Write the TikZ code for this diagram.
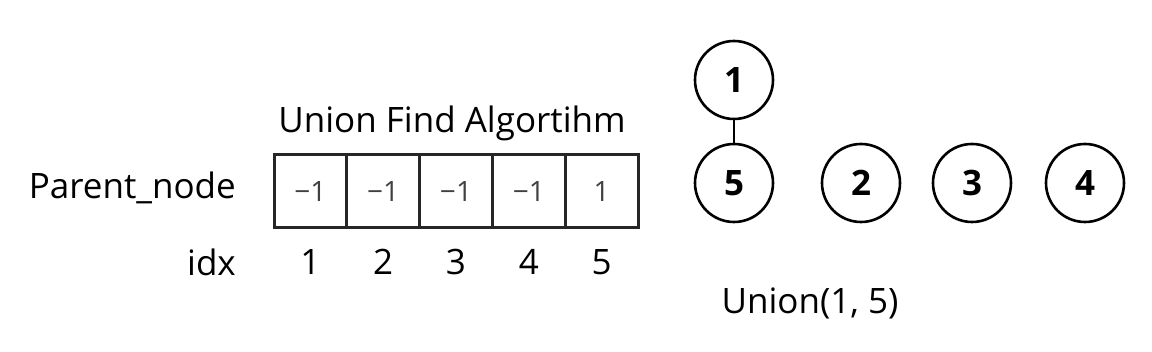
\documentclass[tikz,border=0pt]{standalone}
\usepackage{fontspec}
\setmainfont{Open Sans}
\begin{document}
\begin{tikzpicture}[x=1pt,y=-1pt,
  lbl/.style={inner sep=0pt,font=\fontsize{35}{42}\selectfont},
  cell/.style={draw=black!85,line width=3pt,minimum width=72.8pt,minimum height=73pt,inner sep=0pt,
    text=black!75,font=\fontsize{28}{33}\selectfont},
  vert/.style={circle,draw=black,line width=2.6pt,minimum size=78pt,inner sep=0pt,
    font=\fontsize{35}{42}\selectfont\bfseries},
  edge/.style={line width=2.6pt}]
\useasboundingbox (0,0) rectangle (1152,352);
\node[lbl] (title) at (452,123) {Union Find Algortihm};
\node[lbl,anchor=east] (parent) at (236,188) {Parent\_node};
\node[lbl,anchor=east] (idx) at (236,262) {idx};
\foreach \i/\v in {1/−1,2/−1,3/−1,4/−1,5/1}{
  \node[cell] (c\i) at ({274+36.4+72.8*(\i-1)},191.5) {\v};
  \node[lbl] (n\i) at ({274+36.4+72.8*(\i-1)},262) {\i};
}
\node[vert] (v1) at (734,80) {1};
\node[vert] (v5) at (734,183) {5};
\node[vert] (v2) at (861,183) {2};
\node[vert] (v3) at (972,183) {3};
\node[vert] (v4) at (1085,183) {4};
\draw[edge] (v1) -- (v5);
\node[lbl] (op) at (810,303) {Union(1, 5)};
\end{tikzpicture}
\end{document}
